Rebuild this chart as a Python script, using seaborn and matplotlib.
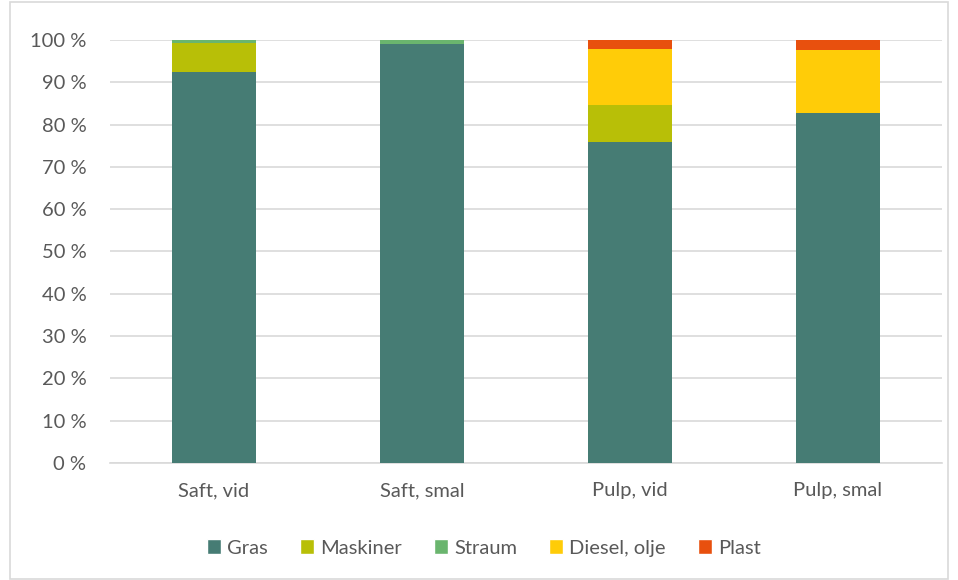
import matplotlib
matplotlib.use("Agg")
import numpy as np
import pandas as pd
import matplotlib.pyplot as plt
import seaborn as sns
from matplotlib.patches import Rectangle, Patch

categories = ["Saft, vid", "Saft, smal", "Pulp, vid", "Pulp, smal"]
series = ["Gras", "Maskiner", "Straum", "Diesel, olje", "Plast"]
gras = [92.5, 99.1, 75.8, 82.7]
maskiner = [6.8, 0.0, 8.9, 0.0]
straum = [0.7, 0.9, 0.0, 0.0]
diesel = [0.0, 0.0, 13.2, 15.0]
plast = [0.0, 0.0, 2.1, 2.3]
colors = ["#467C74", "#B8BF07", "#6AB56E", "#FFCC08", "#E8500E"]
yticks = list(range(0, 101, 10))

sns.set_theme(style="white")
plt.rcParams['font.family'] = ['Lato', 'DejaVu Sans']
txt = "#595959"

fig = plt.figure(figsize=(9.58, 5.8), dpi=100)
ax = fig.add_axes([110 / 958, 1 - 463 / 580, 832 / 958, 423 / 580])

df = pd.DataFrame({"cat": categories, "Gras": gras, "Maskiner": maskiner,
                   "Straum": straum, "Diesel, olje": diesel, "Plast": plast})
bottom = np.zeros(len(categories))
for name, col in zip(series, colors):
    sns.barplot(data=df, x="cat", y=name, color=col, bottom=bottom, width=0.4,
                ax=ax, saturation=1, edgecolor="none", linewidth=0, zorder=3)
    bottom = bottom + df[name].values

ax.set_ylim(0, 100)
ax.set_xlim(-0.5, 3.5)
ax.set_yticks(yticks)
ax.set_yticklabels([f"{t} %" for t in yticks])
ax.set_xlabel("")
ax.set_ylabel("")
ax.grid(axis="y", color="#D9D9D9", linewidth=1.2, zorder=0)
ax.grid(axis="x", visible=False)
for s in ["top", "right", "left"]:
    ax.spines[s].set_visible(False)
ax.spines["bottom"].set_color("#D9D9D9")
ax.spines["bottom"].set_linewidth(1.2)
ax.tick_params(axis="both", length=0, labelsize=14.5, colors=txt)
ax.tick_params(axis="x", pad=14)
ax.tick_params(axis="y", pad=17)

handles = [Patch(facecolor=c, label=s) for s, c in zip(series, colors)]
fig.legend(handles=handles, loc="center", bbox_to_anchor=(0.505, 1 - 548 / 580),
           ncol=5, frameon=False, fontsize=14.5, handlelength=0.7, handleheight=0.7,
           handletextpad=0.3, columnspacing=1.6, labelcolor=txt)

fig.patches.append(Rectangle((10 / 958, 0.002), 0.99 - 10 / 958, 0.995,
                             transform=fig.transFigure, fill=False,
                             edgecolor="#D9D9D9", linewidth=1.2))

fig.savefig("out.png", dpi=100)
